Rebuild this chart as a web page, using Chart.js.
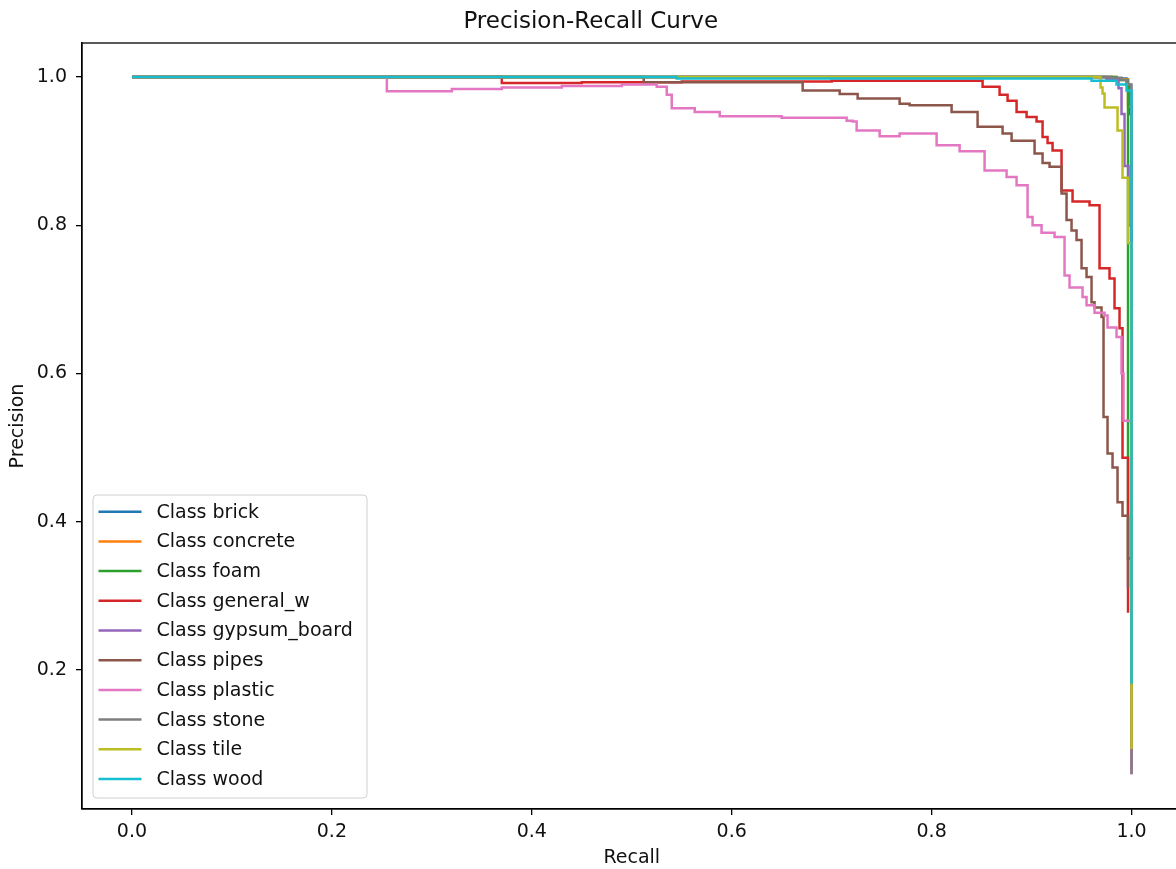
<!DOCTYPE html>
<html>
<head>
<meta charset="utf-8">
<script src="https://cdn.jsdelivr.net/npm/chart.js@4.4.1/dist/chart.umd.min.js"></script>
<style>
  html, body { margin: 0; padding: 0; background: #fff; overflow: hidden; }
  #wrap { width: 1186px; height: 869px; position: relative; }
</style>
</head>
<body>
<div id="wrap"><canvas id="prChart"></canvas></div>
<script>
'use strict';

// ── Data (recall, precision) — plateau start points ──

const classNames = ['brick', 'concrete', 'foam', 'general_w', 'gypsum_board',
                    'pipes', 'plastic', 'stone', 'tile', 'wood'];

const brickPts    = [[0, 1], [0.98, 0.998], [0.995, 0.99], [0.998, 0.95], [1.0, 0.2]];
const concretePts = [[0, 1], [0.985, 0.997], [0.9965, 0.96], [1.0, 0.25]];
const foamPts     = [[0, 1], [0.985, 0.996], [0.9965, 0.35], [1.0, 0.12]];
const generalPts  = [
  [0, 1], [0.37, 0.992], [0.45, 0.993], [0.55, 0.994], [0.70, 0.995],
  [0.851, 0.987], [0.868, 0.976], [0.876, 0.968], [0.885, 0.953], [0.895, 0.946],
  [0.905, 0.940], [0.911, 0.919], [0.916, 0.911], [0.921, 0.901], [0.930, 0.847],
  [0.941, 0.832], [0.958, 0.827], [0.968, 0.742], [0.978, 0.728], [0.983, 0.688],
  [0.988, 0.661], [0.991, 0.486], [0.9965, 0.277]
];
const gypsumPts   = [[0, 1], [0.975, 0.997], [0.987, 0.985], [0.990, 0.95], [0.993, 0.88],
                     [0.997, 0.80], [1.0, 0.065]];
const pipesPts    = [
  [0, 1], [0.512, 0.993], [0.671, 0.982], [0.708, 0.977], [0.726, 0.971],
  [0.768, 0.964], [0.778, 0.962], [0.820, 0.953], [0.846, 0.933], [0.871, 0.924],
  [0.880, 0.914], [0.903, 0.897], [0.911, 0.884], [0.918, 0.879], [0.930, 0.843],
  [0.935, 0.807], [0.940, 0.793], [0.945, 0.780], [0.950, 0.742], [0.955, 0.730],
  [0.960, 0.696], [0.963, 0.689], [0.970, 0.676], [0.972, 0.541], [0.976, 0.492],
  [0.981, 0.473], [0.986, 0.426], [0.991, 0.408], [0.9965, 0.31]
];
const plasticPts  = [
  [0, 1], [0.255, 0.981], [0.32, 0.984], [0.37, 0.986], [0.43, 0.988], [0.49, 0.990],
  [0.525, 0.987], [0.535, 0.976], [0.540, 0.958], [0.563, 0.953], [0.588, 0.947],
  [0.650, 0.945], [0.715, 0.941], [0.721, 0.940], [0.725, 0.928], [0.748, 0.920],
  [0.768, 0.924], [0.805, 0.908], [0.828, 0.900], [0.853, 0.874], [0.875, 0.865],
  [0.885, 0.854], [0.896, 0.811], [0.901, 0.800], [0.910, 0.790], [0.923, 0.784],
  [0.933, 0.732], [0.938, 0.716], [0.951, 0.703], [0.955, 0.692], [0.963, 0.682],
  [0.973, 0.678], [0.976, 0.662], [0.985, 0.649], [0.990, 0.600], [0.992, 0.536],
  [1.0, 0.059]
];
const stonePts    = [[0, 1], [0.98, 0.999], [0.99, 0.996], [0.996, 0.99], [1.0, 0.059]];
const tilePts     = [[0, 1], [0.969, 0.986], [0.971, 0.978], [0.973, 0.959], [0.986, 0.928],
                     [0.991, 0.864], [0.9965, 0.776], [1.0, 0.093]];
const woodPts     = [[0, 1], [0.545, 0.998], [0.96, 0.995], [0.985, 0.99], [0.995, 0.982],
                     [1.0, 0.181]];

const seriesPts = [brickPts, concretePts, foamPts, generalPts, gypsumPts,
                   pipesPts, plasticPts, stonePts, tilePts, woodPts];

const xTicks = [0.0, 0.2, 0.4, 0.6, 0.8, 1.0];
const yTicks = [0.2, 0.4, 0.6, 0.8, 1.0];

// matplotlib tab10
const palette = ['#1f77b4', '#ff7f0e', '#2ca02c', '#d62728', '#9467bd',
                 '#8c564b', '#e377c2', '#7f7f7f', '#bcbd22', '#17becf'];

const FONT = "'DejaVu Sans', 'Liberation Sans', sans-serif";
Chart.defaults.font.family = FONT;
Chart.defaults.color = '#111';

// ── Frame + matplotlib-style legend ─────────────────────────────────────────

const frameLegend = {
  id: 'frameLegend',
  afterDraw(chart) {
    const { ctx, chartArea: a } = chart;
    ctx.save();
    ctx.strokeStyle = '#000';
    ctx.lineWidth = 1.3;
    ctx.strokeRect(a.left, a.top, a.right - a.left, a.bottom - a.top);

    const w = 274, h = 303;
    const left = a.left + 11, bottom = a.bottom - 11, top = bottom - h;
    ctx.beginPath();
    ctx.roundRect(left, top, w, h, 4);
    ctx.fillStyle = 'rgba(255,255,255,0.8)';
    ctx.fill();
    ctx.strokeStyle = '#d0d0d0';
    ctx.lineWidth = 1;
    ctx.stroke();

    ctx.font = '19px ' + FONT;
    ctx.textBaseline = 'middle';
    ctx.textAlign = 'left';
    chart.data.datasets.forEach((ds, i) => {
      const y = top + 16.7 + i * 29.7;
      ctx.beginPath();
      ctx.moveTo(left + 5.5, y);
      ctx.lineTo(left + 48.5, y);
      ctx.strokeStyle = ds.borderColor;
      ctx.lineWidth = 2.5;
      ctx.stroke();
      ctx.fillStyle = '#111';
      ctx.fillText(ds.label, left + 63.5, y + 1);
    });
    ctx.restore();
  }
};

// ── Chart ───────────────────────────────────────────────────────────────────

const datasets = classNames.map((name, i) => ({
  label: 'Class ' + name,
  data: seriesPts[i].map(p => ({ x: p[0], y: p[1] })),
  borderColor: palette[i],
  backgroundColor: palette[i],
  borderWidth: 2.5,
  pointRadius: 0,
  fill: false,
  stepped: 'before',               // horizontal run first, then the drop
  order: classNames.length - i     // later classes on top, like matplotlib
}));

const tickStyle = { display: true, drawOnChartArea: false, drawTicks: true, tickLength: 6, color: '#000', lineWidth: 1.3 };

new Chart(document.getElementById('prChart'), {
  type: 'line',
  data: { datasets },
  options: {
    responsive: true,
    maintainAspectRatio: false,
    animation: false,
    layout: { padding: { left: 0, right: 4.5, top: 0, bottom: 0 } },
    plugins: {
      legend: { display: false },
      tooltip: { enabled: false },
      title: {
        display: true,
        text: 'Precision-Recall Curve',
        color: '#111',
        font: { size: 23, weight: 'normal', family: FONT },
        padding: { top: 8, bottom: 7.4 }
      }
    },
    scales: {
      x: {
        type: 'linear',
        min: -0.05, max: 1.05,
        grid: tickStyle,
        border: { display: true, color: '#000', width: 1.3 },
        afterBuildTicks: s => { s.ticks = xTicks.map(v => ({ value: v })); },
        afterFit: s => { s.height = 60; },
        ticks: { padding: 6, font: { size: 19 }, color: '#111', callback: v => v.toFixed(1) },
        title: { display: true, text: 'Recall', font: { size: 19 }, color: '#111', padding: { top: 0, bottom: 0 } }
      },
      y: {
        type: 'linear',
        min: 0.012, max: 1.046,
        grid: tickStyle,
        border: { display: true, color: '#000', width: 1.3 },
        afterBuildTicks: s => { s.ticks = yTicks.map(v => ({ value: v })); },
        afterFit: s => { s.width = 82; },
        ticks: { padding: 9, font: { size: 19 }, color: '#111', callback: v => v.toFixed(1) },
        title: { display: true, text: 'Precision', font: { size: 19 }, color: '#111', padding: { top: 7, bottom: 0 } }
      }
    }
  },
  plugins: [frameLegend]
});
</script>
</body>
</html>
